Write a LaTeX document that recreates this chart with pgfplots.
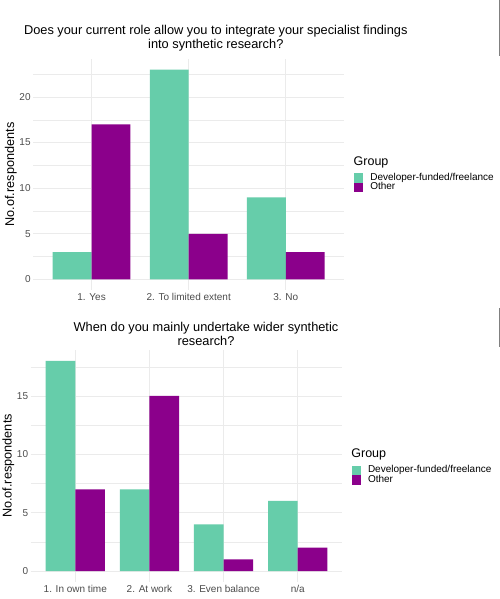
\documentclass[border=0pt]{standalone}
\usepackage{pgfplots}
\pgfplotsset{compat=1.18}
\usepackage{fontspec}
\setmainfont{Liberation Sans}
\definecolor{devgreen}{HTML}{66CDAA}
\definecolor{othpurple}{HTML}{8B008B}
\definecolor{ticktext}{HTML}{4D4D4D}
\definecolor{gridc}{HTML}{EBEBEB}
\pgfplotsset{
  ggstyle/.style={
    scale only axis,
    anchor=south west,
    axis line style={draw=none},
    tick style={draw=none},
    ybar,
    bar width=0.4,
    major tick length=0pt,
    minor tick length=0pt,
    xmajorgrids, ymajorgrids, yminorgrids,
    major grid style={draw=gridc, line width=0.8pt},
    minor grid style={draw=gridc, line width=0.45pt},
    /pgf/number format/assume math mode=true,
    ticklabel style={font=\fontsize{10}{12}\selectfont, text=ticktext},
    yticklabel style={anchor=east, inner sep=0pt, xshift=-2.5pt},
    xticklabel style={anchor=base, inner sep=0pt, yshift=-10.7pt},
    legend cell align=left,
    legend image code/.code={\fill[##1] (0pt,-4.7pt) rectangle (9.3pt,4.7pt);},
    legend style={draw=none, fill=none, inner sep=0pt, outer sep=0pt,
      row sep=0pt, column sep=7pt, anchor=north west,
      font=\fontsize{10}{12}\selectfont,
      nodes={inner sep=0pt, anchor=west, text height=7pt, text depth=2.4pt}},
  }
}
\begin{document}
\begin{tikzpicture}
\path[use as bounding box] (0pt,0pt) rectangle (500pt,599pt);
\fill[white] (0pt,0pt) rectangle (500pt,599pt);
% ---------- top panel ----------
\begin{axis}[ggstyle,
  at={(33.3pt,309pt)}, width=310.8pt, height=230.9pt,
  xmin=0.4, xmax=3.6, ymin=-1.15, ymax=24.15,
  xtick={1,2,3}, xticklabels={1. Yes, 2. To limited extent, 3. No},
  ytick={0,5,10,15,20}, minor ytick={2.5,7.5,12.5,17.5,22.5},
  legend style={at={(rel axis cs:1.0319,0.5054)}},
]
\addplot[fill=devgreen, draw=none, bar shift=-0.2] coordinates {(1,3) (2,23) (3,9)};
\addplot[fill=othpurple, draw=none, bar shift=0.2] coordinates {(1,17) (2,5) (3,3)};
\addlegendentry{Developer-funded/freelance}
\addlegendentry{Other}
\end{axis}
\node[anchor=base, font=\fontsize{12.8}{14}\selectfont] at (215.8pt,564.2pt) {Does your current role allow you to integrate your specialist findings};
\node[anchor=base, font=\fontsize{12.8}{14}\selectfont] at (215.8pt,550.2pt) {into synthetic research?};
\node[rotate=90, anchor=base, font=\fontsize{12.7}{14}\selectfont] at (14pt,424.5pt) {No.of.respondents};
\node[anchor=base west, inner sep=0pt, font=\fontsize{12.5}{14}\selectfont] at (353.5pt,433pt) {Group};
% ---------- bottom panel ----------
\begin{axis}[ggstyle,
  at={(30.8pt,17.5pt)}, width=311.4pt, height=231pt,
  xmin=0.4, xmax=4.6, ymin=-0.9, ymax=18.9,
  xtick={1,2,3,4}, xticklabels={1. In own time, 2. At work, 3. Even balance, n/a},
  ytick={0,5,10,15}, minor ytick={2.5,7.5,12.5,17.5},
  legend style={at={(rel axis cs:1.0305,0.5013)}},
]
\addplot[fill=devgreen, draw=none, bar shift=-0.2] coordinates {(1,18) (2,7) (3,4) (4,6)};
\addplot[fill=othpurple, draw=none, bar shift=0.2] coordinates {(1,7) (2,15) (3,1) (4,2)};
\addlegendentry{Developer-funded/freelance}
\addlegendentry{Other}
\end{axis}
\node[anchor=base, font=\fontsize{12.8}{14}\selectfont] at (206pt,267.2pt) {When do you mainly undertake wider synthetic};
\node[anchor=base, font=\fontsize{12.8}{14}\selectfont] at (206pt,253pt) {research?};
\node[rotate=90, anchor=base, font=\fontsize{12.7}{14}\selectfont] at (11.5pt,133pt) {No.of.respondents};
\node[anchor=base west, inner sep=0pt, font=\fontsize{12.5}{14}\selectfont] at (351.2pt,141.4pt) {Group};
% edge artefacts
\draw[draw=gray, line width=1pt] (499.3pt,599pt) -- (499.3pt,543pt);
\draw[draw=gray, line width=1pt] (499.3pt,291pt) -- (499.3pt,252pt);
\end{tikzpicture}
\end{document}
